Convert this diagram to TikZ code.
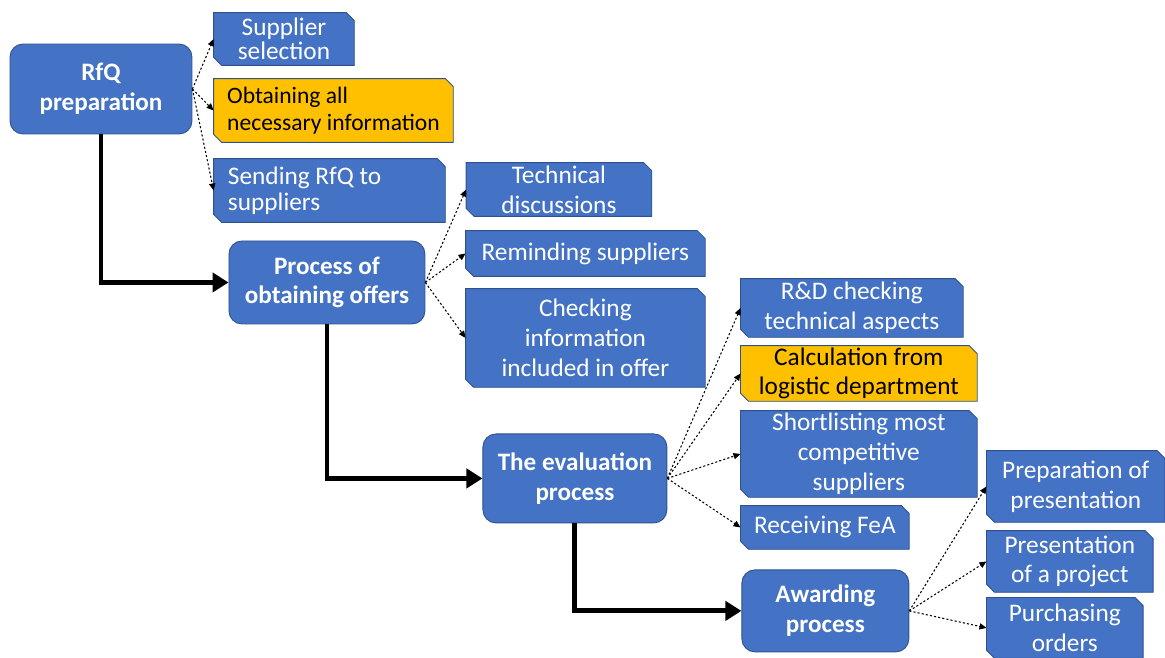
\documentclass[tikz,border=0pt]{standalone}
\usepackage{fontspec}
\setmainfont{Carlito}
\usetikzlibrary{positioning,arrows.meta,backgrounds}

\definecolor{boxblue}{HTML}{4472C4}
\definecolor{boxedge}{HTML}{2F528F}
\definecolor{boxgold}{HTML}{FFC000}

\begin{document}
\begin{tikzpicture}[x=0.02cm,y=0.02cm,on grid,
    stage/.style={rectangle,rounded corners=0.26cm,fill=boxblue,draw=boxedge,line width=0.5pt,
      text=white,font=\fontsize{14.3}{17}\selectfont\bfseries,align=center,inner sep=0pt},
    task/.style={rectangle,text=white,font=\fontsize{14.4}{17}\selectfont,align=center,inner sep=0pt},
    hot/.style={text=black},
    snip/.style={draw=boxedge,line width=0.5pt},
    flow/.style={-{Triangle[length=0.32cm,width=0.38cm]},line width=2.8pt},
    link/.style={-{Triangle[length=4pt,width=3.5pt]},line width=0.6pt,dash pattern=on 1.2pt off 1.2pt}]
    \useasboundingbox (0,0) rectangle (1165,-658);

    % main stages
    \node[stage,minimum width=3.64cm,minimum height=1.80cm] (rfq) at (101,-89)                   {RfQ\\preparation};
    \node[stage,minimum width=3.92cm,minimum height=1.66cm] (offers) [below right=3.87cm and 4.52cm of rfq]    {Process of\\obtaining offers};
    \node[stage,minimum width=3.68cm,minimum height=1.78cm] (eval)   [below right=3.92cm and 4.96cm of offers] {The evaluation\\process};
    \node[stage,minimum width=3.34cm,minimum height=1.64cm] (award)  [below right=2.65cm and 5.01cm of eval]   {Awarding\\process};

    % tasks of RfQ preparation
    \node[task,minimum width=2.80cm,minimum height=1.04cm,font=\fontsize{14.4}{13.8}\selectfont] (sel) [above right=1.00cm and 3.66cm of rfq] {Supplier\\selection};
    \node[task,hot,minimum width=4.78cm,minimum height=1.26cm,align=flush left,font=\fontsize{13.4}{15.3}\selectfont] (info) [below right=0.43cm and 4.65cm of rfq] {Obtaining all\\necessary information};
    \node[task,minimum width=4.62cm,minimum height=1.26cm,align=flush left,text width=4.06cm,font=\fontsize{14.4}{14.7}\selectfont] (send) [below right=2.03cm and 4.57cm of rfq] {Sending RfQ to\\suppliers};
    % tasks of obtaining offers
    \node[task,minimum width=3.70cm,minimum height=1.06cm] (tech)   [above right=1.86cm and 4.64cm of offers] {Technical\\discussions};
    \node[task,minimum width=4.78cm,minimum height=0.90cm] (remind) [above right=0.58cm and 5.17cm of offers] {Reminding suppliers};
    \node[task,minimum width=4.78cm,minimum height=1.96cm] (check)  [below right=1.11cm and 5.17cm of offers] {Checking\\information\\included in offer};
    % tasks of evaluation
    \node[task,minimum width=4.44cm,minimum height=1.16cm] (rnd)   [above right=3.41cm and 5.54cm of eval] {R\&D checking\\technical aspects};
    \node[task,hot,minimum width=4.72cm,minimum height=1.10cm] (calc) [above right=2.10cm and 5.68cm of eval] {Calculation from\\logistic department};
    \node[task,minimum width=4.72cm,minimum height=1.72cm] (short) [above right=0.49cm and 5.68cm of eval] {Shortlisting most\\competitive\\suppliers};
    \node[task,minimum width=3.36cm,minimum height=0.86cm] (fea)   [below right=0.98cm and 5.00cm of eval] {Receiving FeA};
    % tasks of awarding
    \node[task,minimum width=3.56cm,minimum height=1.42cm] (prep)  [above right=2.49cm and 5.01cm of award] {Preparation of\\presentation};
    \node[task,minimum width=3.32cm,minimum height=1.22cm] (pres)  [above right=0.99cm and 4.89cm of award] {Presentation\\of a project};
    \node[task,minimum width=3.12cm,minimum height=1.20cm] (order) [below right=0.34cm and 4.79cm of award] {Purchasing\\orders};

    % snipped boxes behind the task texts
    \begin{scope}[on background layer]
      \foreach \t/\c in {sel/boxblue,info/boxgold,send/boxblue,tech/boxblue,remind/boxblue,check/boxblue,
          rnd/boxblue,calc/boxgold,short/boxblue,fea/boxblue,prep/boxblue,pres/boxblue,order/boxblue}
        \filldraw[snip,fill=\c] (\t.north west) -- ([xshift=-0.16cm]\t.north east) -- ([yshift=-0.16cm]\t.north east)
          -- (\t.south east) -- ([xshift=0.16cm]\t.south west) -- ([yshift=0.16cm]\t.south west) -- cycle;
    \end{scope}

    % main flow
    \draw[flow] (rfq.south)    |- (offers.west);
    \draw[flow] (offers.south) |- (eval.west);
    \draw[flow] (eval.south)   |- (award.west);

    % dotted links
    \path[link]
    (rfq.east) edge (sel.west)
    (rfq.east) edge (info.west)
    (rfq.east) edge (send.west)
    (offers.east) edge (tech.west)
    (offers.east) edge (remind.west)
    (offers.east) edge (check.west)
    (eval.east) edge (rnd.west)
    (eval.east) edge (calc.west)
    (eval.east) edge (short.west)
    (eval.east) edge (fea.west)
    (award.east) edge (prep.west)
    (award.east) edge (pres.west)
    (award.east) edge (order.west);
\end{tikzpicture}
\end{document}
